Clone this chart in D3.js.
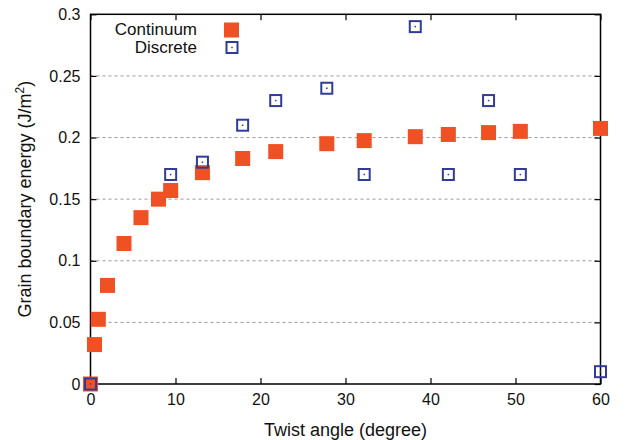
<!DOCTYPE html>
<html lang="en">
<head>
    <meta charset="UTF-8">
    <title>Grain boundary energy</title>
    <script src="https://d3js.org/d3.v7.min.js"></script>
    <style>
        body { margin: 0; background: #ffffff; }
        svg { display: block; font-family: "Liberation Sans", Arial, sans-serif; }
        .grid line { stroke: #9a9a9a; stroke-dasharray: 3,3; stroke-width: 1; }
        .tick-label { font-size: 16px; fill: #111; }
        .axis-title { font-size: 18px; fill: #111; }
        .legend-text { font-size: 17px; fill: #111; }
    </style>
</head>
<body>
    <div id="chart"></div>
    <script>
        // данные
        const continuumAngle = [0, 0.47, 0.92, 2.0, 3.94, 5.94, 8.0, 9.43, 13.17, 17.9, 21.79, 27.8, 32.2, 38.21, 42.1, 46.83, 50.57, 60];
        const continuumEnergy = [0, 0.032, 0.0525, 0.080, 0.114, 0.135, 0.150, 0.157, 0.1715, 0.183, 0.1886, 0.195, 0.1975, 0.2007, 0.2025, 0.204, 0.205, 0.2074];

        const discreteAngle = [0, 9.43, 13.17, 17.9, 21.79, 27.8, 32.2, 38.21, 42.1, 46.83, 50.57, 60];
        const discreteEnergy = [0, 0.17, 0.18, 0.21, 0.23, 0.24, 0.17, 0.29, 0.17, 0.23, 0.17, 0.01];

        const xTicks = [0, 10, 20, 30, 40, 50, 60];
        const yTicks = [0, 0.05, 0.1, 0.15, 0.2, 0.25, 0.3];
        const gridTicks = [0.05, 0.1, 0.15, 0.2, 0.25];

        const W = 625, H = 440;
        const margin = { top: 14.3, right: 24.5, bottom: 56, left: 90.5 };
        const width = W - margin.left - margin.right;
        const height = H - margin.top - margin.bottom;

        const orange = "#f05124";
        const blue = "#323c96";

        const svg = d3.select("#chart")
            .append("svg")
            .attr("width", W)
            .attr("height", H);

        const g = svg.append("g")
            .attr("transform", `translate(${margin.left},${margin.top})`);

        const x = d3.scaleLinear().domain([0, 60]).range([0, width]);
        const y = d3.scaleLinear().domain([0, 0.3]).range([height, 0]);

        // сетка
        g.append("g")
            .attr("class", "grid")
            .selectAll("line")
            .data(gridTicks)
            .join("line")
            .attr("x1", 0)
            .attr("x2", width)
            .attr("y1", d => y(d))
            .attr("y2", d => y(d));

        // оси: тики внутрь, зеркальные сверху и справа
        const tickLen = 6;
        const styleAxis = sel => {
            sel.select(".domain").remove();
            sel.selectAll(".tick line").attr("stroke", "#000").attr("stroke-width", 1.2);
        };

        g.append("g")
            .attr("transform", `translate(0,${height})`)
            .call(d3.axisBottom(x).tickValues(xTicks).tickSize(-tickLen).tickPadding(10).tickFormat(d3.format("d")))
            .call(styleAxis)
            .selectAll("text")
            .attr("class", "tick-label")
            .attr("font-family", null)
            .attr("font-size", null);

        g.append("g")
            .call(d3.axisTop(x).tickValues(xTicks).tickSize(-tickLen).tickFormat(""))
            .call(styleAxis);

        g.append("g")
            .call(d3.axisLeft(y).tickValues(yTicks).tickSize(-tickLen).tickPadding(10).tickFormat(d => d === 0 ? "0" : String(d)))
            .call(styleAxis)
            .selectAll("text")
            .attr("class", "tick-label")
            .attr("font-family", null)
            .attr("font-size", null);

        g.append("g")
            .attr("transform", `translate(${width},0)`)
            .call(d3.axisRight(y).tickValues(yTicks).tickSize(-tickLen).tickFormat(""))
            .call(styleAxis);

        // рамка
        g.append("rect")
            .attr("width", width)
            .attr("height", height)
            .attr("fill", "none")
            .attr("stroke", "#000")
            .attr("stroke-width", 1.5);

        // подписи осей
        svg.append("text")
            .attr("class", "axis-title")
            .attr("x", margin.left + width / 2)
            .attr("y", 436)
            .attr("text-anchor", "middle")
            .text("Twist angle (degree)");

        const yTitle = svg.append("text")
            .attr("class", "axis-title")
            .attr("transform", `translate(31,${margin.top + height / 2}) rotate(-90)`)
            .attr("text-anchor", "middle");
        yTitle.append("tspan").text("Grain boundary energy (J/m");
        yTitle.append("tspan").attr("dy", -7).attr("font-size", 12).text("2");
        yTitle.append("tspan").attr("dy", 7).text(")");

        // точки: континуум
        const cs = 15;
        const continuum = continuumAngle.map((a, i) => ({ a, e: continuumEnergy[i] }));
        g.append("g")
            .selectAll("rect")
            .data(continuum)
            .join("rect")
            .attr("x", d => x(d.a) - cs / 2)
            .attr("y", d => y(d.e) - cs / 2)
            .attr("width", cs)
            .attr("height", cs)
            .attr("fill", orange);

        // точки: дискретная модель
        const ds = 11;
        const discrete = discreteAngle.map((a, i) => ({ a, e: discreteEnergy[i] }));
        const dg = g.append("g")
            .selectAll("g")
            .data(discrete)
            .join("g")
            .attr("transform", d => `translate(${x(d.a)},${y(d.e)})`);
        dg.append("rect")
            .attr("x", -ds / 2)
            .attr("y", -ds / 2)
            .attr("width", ds)
            .attr("height", ds)
            .attr("fill", "none")
            .attr("stroke", blue)
            .attr("stroke-width", 2);
        dg.append("rect")
            .attr("x", -0.75)
            .attr("y", -0.75)
            .attr("width", 1.5)
            .attr("height", 1.5)
            .attr("fill", blue);

        // легенда
        const legend = svg.append("g");
        legend.append("text")
            .attr("class", "legend-text")
            .attr("x", 197)
            .attr("y", 35)
            .attr("text-anchor", "end")
            .text("Continuum");
        legend.append("rect")
            .attr("x", 224)
            .attr("y", 22.5)
            .attr("width", cs)
            .attr("height", cs)
            .attr("fill", orange);
        legend.append("text")
            .attr("class", "legend-text")
            .attr("x", 197)
            .attr("y", 53)
            .attr("text-anchor", "end")
            .text("Discrete");
        legend.append("rect")
            .attr("x", 232 - ds / 2)
            .attr("y", 47.5 - ds / 2)
            .attr("width", ds)
            .attr("height", ds)
            .attr("fill", "none")
            .attr("stroke", blue)
            .attr("stroke-width", 2);
        legend.append("rect")
            .attr("x", 231.25)
            .attr("y", 46.75)
            .attr("width", 1.5)
            .attr("height", 1.5)
            .attr("fill", blue);
    </script>
</body>
</html>
